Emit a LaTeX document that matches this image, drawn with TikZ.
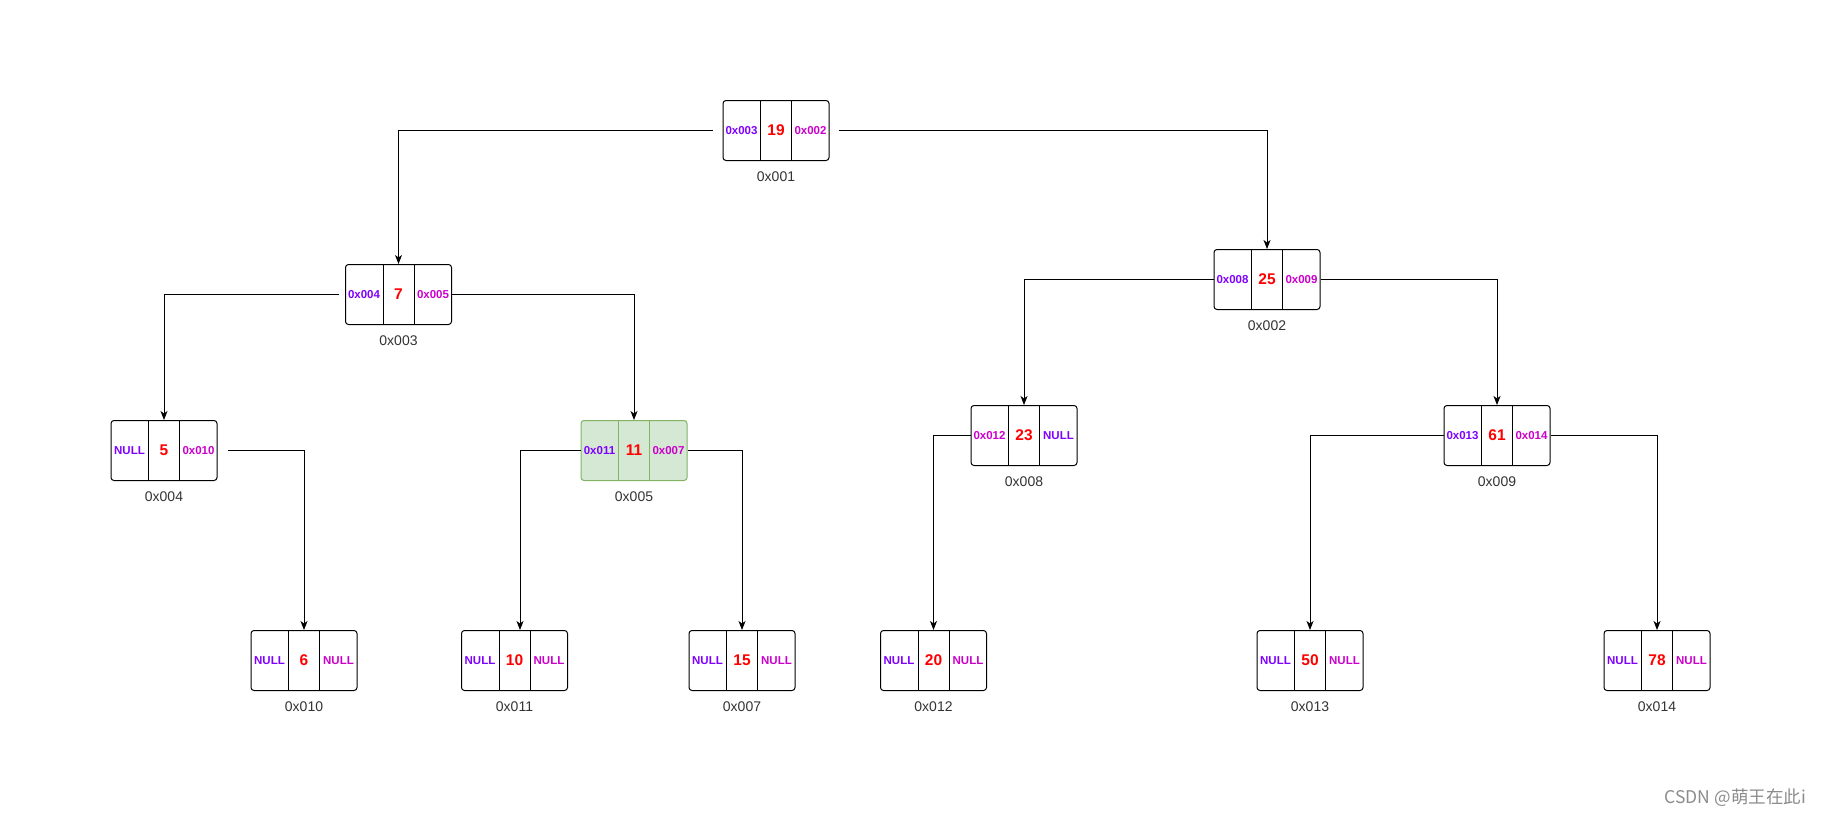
\documentclass[tikz,border=0pt]{standalone}
\usepackage{fontspec}
\setmainfont{Liberation Sans}
\newfontfamily\cjk{Noto Sans CJK SC}
\usetikzlibrary{arrows.meta}
\definecolor{pl}{HTML}{7F00FF}
\definecolor{mg}{HTML}{CC00CC}
\definecolor{addrc}{HTML}{333333}
\definecolor{gfill}{HTML}{D5E8D4}
\definecolor{gline}{HTML}{82B366}
\tikzset{
  cellbox/.style={draw=black,line width=1pt,rounded corners=3pt,minimum width=106pt,minimum height=60pt,inner sep=0pt,anchor=north,fill=white},
  plainbox/.style={},
  greenbox/.style={fill=gfill,draw=gline},
  divline/.style={draw=black,line width=1pt},
  greendiv/.style={draw=gline,line width=1pt},
  ptrtext/.style={font=\fontsize{11.5}{12}\selectfont\bfseries,inner sep=0pt},
  valtext/.style={font=\fontsize{15.5}{16}\selectfont\bfseries,text=red,inner sep=0pt},
  addr/.style={font=\fontsize{14}{16}\selectfont,text=addrc,inner sep=0pt},
  link/.style={draw=black,line width=1pt,-{Stealth[length=9pt,width=7pt,inset=2.5pt]}}
}
\newcommand\treenode[7]{%
  \node[cellbox,#4] (#1) at (#2,#3) {};
  \draw[#5] ([xshift=38pt]#1.north west) -- ([xshift=38pt]#1.south west);
  \draw[#5] ([xshift=-38pt]#1.north east) -- ([xshift=-38pt]#1.south east);
  \node[ptrtext] at ([xshift=19pt]#1.west) {#6};
  \node[ptrtext] at ([xshift=-19pt]#1.east) {#7};
  \node[addr] at ([yshift=-16pt]#1.south) {#1};
}
\begin{document}
\begin{tikzpicture}[x=1pt,y=-1pt]
\useasboundingbox[fill=white] (0,0) rectangle (1822,816);
% root
\treenode{0x001}{776}{100}{plainbox}{divline}{\color{pl}0x003}{\color{mg}0x002}
\node[valtext] at (0x001.center) {19};
\treenode{0x003}{398.5}{264}{plainbox}{divline}{\color{pl}0x004}{\color{mg}0x005}
\node[valtext] at (0x003.center) {7};
\treenode{0x002}{1267}{249}{plainbox}{divline}{\color{pl}0x008}{\color{mg}0x009}
\node[valtext] at (0x002.center) {25};
\treenode{0x004}{164}{420}{plainbox}{divline}{\color{pl}NULL}{\color{mg}0x010}
\node[valtext] at (0x004.center) {5};
\treenode{0x005}{634}{420}{greenbox}{greendiv}{\color{pl}0x011}{\color{mg}0x007}
\node[valtext] at (0x005.center) {11};
\treenode{0x008}{1024}{405}{plainbox}{divline}{\color{mg}0x012}{\color{pl}NULL}
\node[valtext] at (0x008.center) {23};
\treenode{0x009}{1497}{405}{plainbox}{divline}{\color{pl}0x013}{\color{mg}0x014}
\node[valtext] at (0x009.center) {61};
% leaves
\treenode{0x010}{304}{630}{plainbox}{divline}{\color{pl}NULL}{\color{mg}NULL}
\node[valtext] at (0x010.center) {6};
\treenode{0x011}{514.5}{630}{plainbox}{divline}{\color{pl}NULL}{\color{mg}NULL}
\node[valtext] at (0x011.center) {10};
\treenode{0x007}{742}{630}{plainbox}{divline}{\color{pl}NULL}{\color{mg}NULL}
\node[valtext] at (0x007.center) {15};
\treenode{0x012}{933.5}{630}{plainbox}{divline}{\color{pl}NULL}{\color{mg}NULL}
\node[valtext] at (0x012.center) {20};
\treenode{0x013}{1310}{630}{plainbox}{divline}{\color{pl}NULL}{\color{mg}NULL}
\node[valtext] at (0x013.center) {50};
\treenode{0x014}{1657}{630}{plainbox}{divline}{\color{pl}NULL}{\color{mg}NULL}
\node[valtext] at (0x014.center) {78};
% links
\draw[link,shorten <=10pt] (0x001.west) -| (0x003.north);
\draw[link,shorten <=9pt] (0x001.east) -| (0x002.north);
\draw[link,shorten <=6pt] (0x003.west) -| (0x004.north);
\draw[link] (0x003.east) -| (0x005.north);
\draw[link,shorten <=10pt] (0x004.east) -| (0x010.north);
\draw[link] (0x005.west) -| ([xshift=5.5pt]0x011.north);
\draw[link] (0x005.east) -| (0x007.north);
\draw[link] (0x002.west) -| (0x008.north);
\draw[link] (0x002.east) -| (0x009.north);
\draw[link] (0x008.west) -| (0x012.north);
\draw[link] (0x009.west) -| (0x013.north);
\draw[link] (0x009.east) -| (0x014.north);
% watermark
\node[anchor=east,inner sep=0pt,text=black!45,font=\cjk\fontsize{17.5}{18}\selectfont] (wm) at (1806,798) {CSDN @萌王在此i};
\end{tikzpicture}
\end{document}
